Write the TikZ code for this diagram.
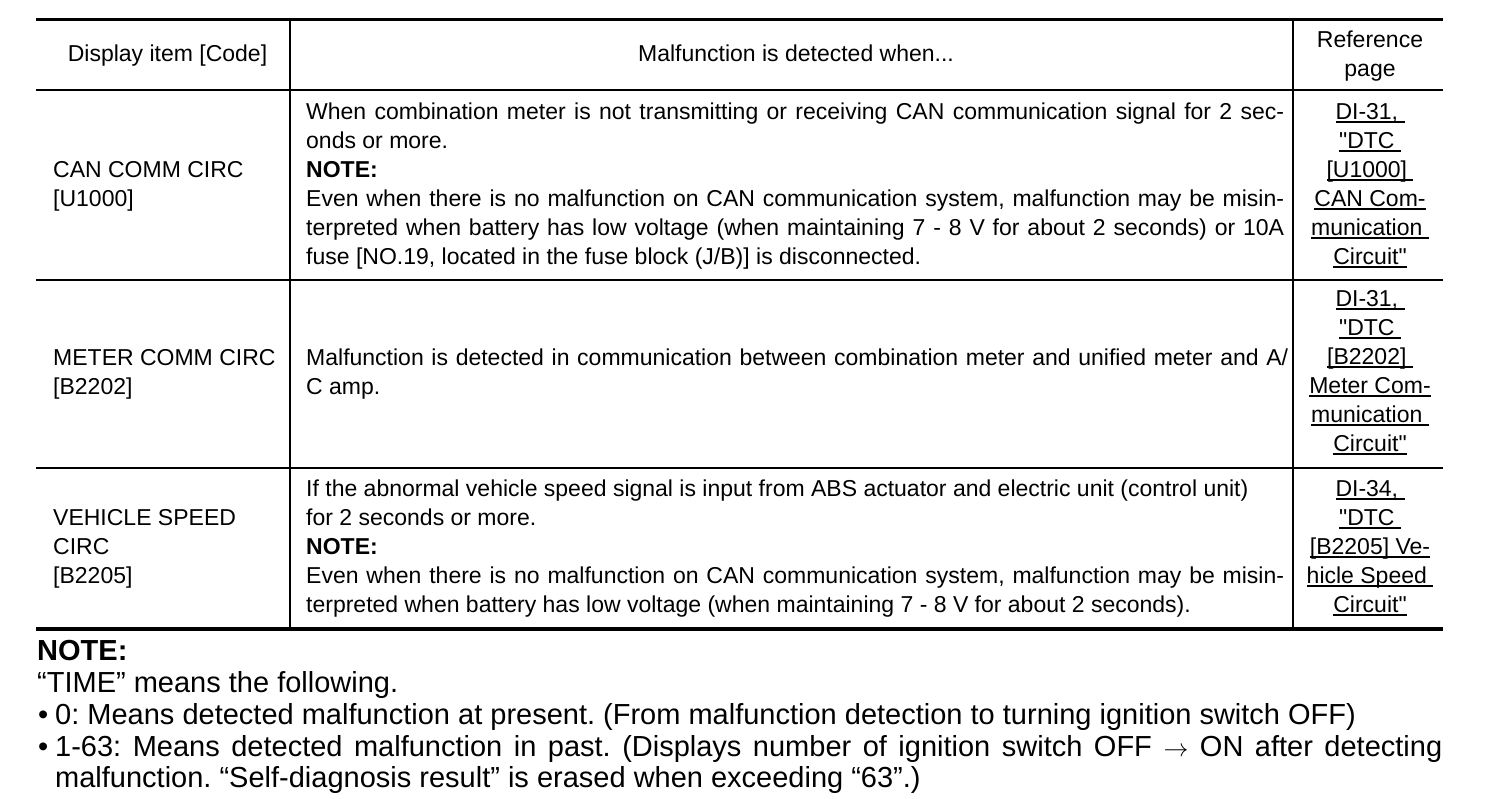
\documentclass[tikz,border=0pt]{standalone}
\usepackage{fontspec}
\setmainfont{Liberation Sans}[Ligatures=TeXOff]
\frenchspacing
\newcommand{\tabsz}{\fontsize{23}{29}\selectfont}
\newcommand{\notesz}{\fontsize{29}{32}\selectfont}
\newcommand{\jline}[2]{\makebox[#1pt][s]{#2}}
\newcommand{\ulin}[1]{\setbox0\hbox{#1}\rlap{\rule[-3.5pt]{\wd0}{1.6pt}}\box0}
\begin{document}
\begin{tikzpicture}[x=1pt,y=-1pt,
  cell/.style={inner sep=0pt, anchor=base west, font=\tabsz},
  ctr/.style={inner sep=0pt, anchor=base, font=\tabsz},
  notetxt/.style={inner sep=0pt, anchor=base west, font=\notesz},
  heavyrule/.style={line width=3pt},
  midrule/.style={line width=2pt},
  lightrule/.style={line width=1.5pt},
  colrule/.style={line width=2pt}]
\useasboundingbox (0,0) rectangle (1504,798);
\fill[white] (0,0) rectangle (1504,798);

% table frame coordinates
\coordinate (tl) at (36,19);   \coordinate (tr) at (1443,19);
\coordinate (hl) at (36,90);   \coordinate (hr) at (1443,90);
\coordinate (r1l) at (36,280); \coordinate (r1r) at (1443,280);
\coordinate (r2l) at (36,468); \coordinate (r2r) at (1443,468);
\coordinate (bl) at (36,629);  \coordinate (br) at (1443,629);
\coordinate (c1t) at (290,19);  \coordinate (c1b) at (290,629);
\coordinate (c2t) at (1293,19); \coordinate (c2b) at (1293,629);

\draw[heavyrule] (tl) -- (tr);
\draw[midrule] (hl) -- (hr);
\draw[lightrule] (r1l) -- (r1r);
\draw[lightrule] (r2l) -- (r2r);
\draw[line width=3.5pt] (bl) -- (br);
\draw[colrule] (c1t) -- (c1b);
\draw[colrule] (c2t) -- (c2b);

% header
\node[ctr] (h1) at (167.5,61) {Display item [Code]};
\node[ctr] (h2) at (796,61) {Malfunction is detected when...};
\node[ctr] (h3a) at (1370,47) {Reference};
\node[ctr] (h3b) at (1370,76) {page};

% row 1
\node[cell] (a1a) at (53,177) {CAN COMM CIRC};
\node[cell] (a1b) at (53,206) {[U1000]};
\node[cell] (m1a) at (306,119) {\jline{978}{When combination meter is not transmitting or receiving CAN communication signal for 2 sec-}};
\node[cell] (m1b) at (306,148) {onds or more.};
\node[cell] (m1c) at (306,177) {\bfseries NOTE:};
\node[cell] (m1d) at (306,206) {\jline{978}{Even when there is no malfunction on CAN communication system, malfunction may be misin-}};
\node[cell] (m1e) at (306,235) {\jline{978}{terpreted when battery has low voltage (when maintaining 7 - 8 V for about 2 seconds) or 10A}};
\node[cell] (m1f) at (306,264) {fuse [NO.19, located in the fuse block (J/B)] is disconnected.};
\node[ctr] (r1a) at (1370,119) {\ulin{DI-31,\ }};
\node[ctr] (r1b) at (1370,148) {\ulin{"DTC\ }};
\node[ctr] (r1c) at (1370,177) {\ulin{[U1000]\ }};
\node[ctr] (r1d) at (1370,206) {\ulin{CAN Com-}};
\node[ctr] (r1e) at (1370,235) {\ulin{munication\ }};
\node[ctr] (r1f) at (1370,264) {\ulin{Circuit"}};

% row 2
\node[cell] (a2a) at (53,365) {METER COMM CIRC};
\node[cell] (a2b) at (53,394) {[B2202]};
\node[cell] (m2a) at (306,365) {\jline{982}{Malfunction is detected in communication between combination meter and unified meter and A/}};
\node[cell] (m2b) at (306,394) {C amp.};
\node[ctr] (r2a) at (1370,306) {\ulin{DI-31,\ }};
\node[ctr] (r2b) at (1370,335) {\ulin{"DTC\ }};
\node[ctr] (r2c) at (1370,364) {\ulin{[B2202]\ }};
\node[ctr] (r2d) at (1370,393) {\ulin{Meter Com-}};
\node[ctr] (r2e) at (1370,422) {\ulin{munication\ }};
\node[ctr] (r2f) at (1370,451) {\ulin{Circuit"}};

% row 3
\node[cell] (a3a) at (53,525) {VEHICLE SPEED};
\node[cell] (a3b) at (53,554) {CIRC};
\node[cell] (a3c) at (53,583) {[B2205]};
\node[cell] (m3a) at (306,496) {If the abnormal vehicle speed signal is input from ABS actuator and electric unit (control unit)};
\node[cell] (m3b) at (306,525) {for 2 seconds or more.};
\node[cell] (m3c) at (306,554) {\bfseries NOTE:};
\node[cell] (m3d) at (306,583) {\jline{978}{Even when there is no malfunction on CAN communication system, malfunction may be misin-}};
\node[cell] (m3e) at (306,612) {terpreted when battery has low voltage (when maintaining 7 - 8 V for about 2 seconds).};
\node[ctr] (r3a) at (1370,496) {\ulin{DI-34,\ }};
\node[ctr] (r3b) at (1370,525) {\ulin{"DTC\ }};
\node[ctr] (r3c) at (1370,554) {\ulin{[B2205] Ve-}};
\node[ctr] (r3d) at (1370,583) {\ulin{hicle Speed\ }};
\node[ctr] (r3e) at (1370,612) {\ulin{Circuit"}};

% note below table
\node[notetxt] (n1) at (37,660) {\bfseries NOTE:};
\node[notetxt] (n2) at (37,692) {“TIME” means the following.};
\node[notetxt] (n3d) at (38,724) {•};
\node[notetxt] (n3) at (55,724) {0: Means detected malfunction at present. (From malfunction detection to turning ignition switch OFF)};
\node[notetxt] (n4d) at (38,756) {•};
\node[notetxt] (n4) at (55,756) {\jline{1387}{1-63: Means detected malfunction in past. (Displays number of ignition switch OFF $\rightarrow$ ON after detecting}};
\node[notetxt] (n5) at (55,787) {malfunction. “Self-diagnosis result” is erased when exceeding “63”.)};
\end{tikzpicture}
\end{document}
